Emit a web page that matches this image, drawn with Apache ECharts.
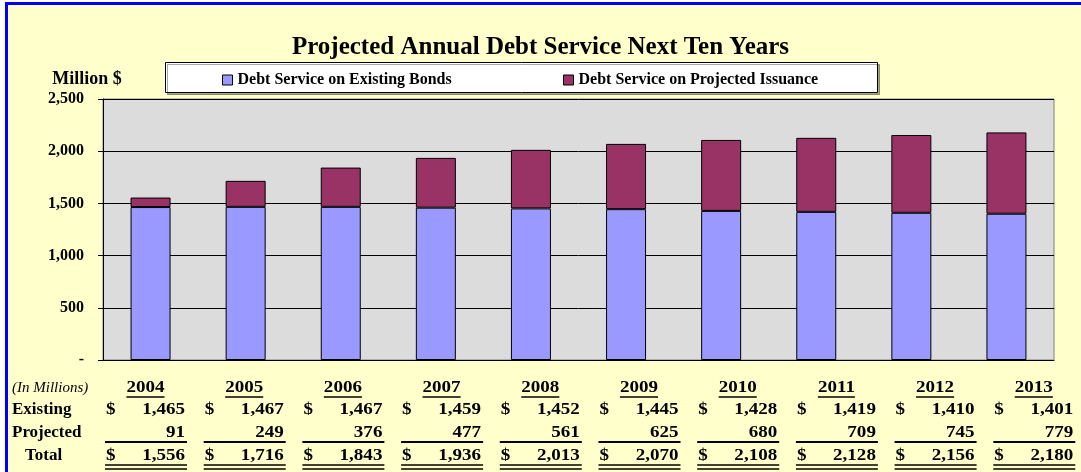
<!DOCTYPE html>
<html>
<head>
<meta charset="utf-8">
<script src="https://cdn.jsdelivr.net/npm/echarts@6/dist/echarts.min.js"></script>
<style>
  html, body { margin: 0; padding: 0; background: #ffffff; }
  #chart { width: 1081px; height: 472px; }
</style>
</head>
<body>
<div id="chart"></div>
<script>
// Annual debt service, millions of dollars
const years = ['2004', '2005', '2006', '2007', '2008', '2009', '2010', '2011', '2012', '2013'];
const existing = [1465, 1467, 1467, 1459, 1452, 1445, 1428, 1419, 1410, 1401];
const projected = [91, 249, 376, 477, 561, 625, 680, 709, 745, 779];
const totals = [1556, 1716, 1843, 1936, 2013, 2070, 2108, 2128, 2156, 2180];
const seriesNames = ['Debt Service on Existing Bonds', 'Debt Service on Projected Issuance'];
const rowLabels = ['(In Millions)', 'Existing', 'Projected', 'Total'];

const SERIF = '"Liberation Serif", "Times New Roman", serif';
const fmt = v => v.toLocaleString('en-US');

// measure text so the year underlines fit the text
const measureCtx = document.createElement('canvas').getContext('2d');
function textWidth(text, font) { measureCtx.font = font; return measureCtx.measureText(text).width; }

const WIDE = 1.12; // horizontal stretch of the table figures

function txt(x, y, text, font, align, sx) {
  return {
    type: 'text', x: x, y: y, z: 20, scaleX: sx || 1,
    style: { text: text, font: font, fill: '#000', textAlign: align || 'left', align: align || 'left',
             textVerticalAlign: 'middle', verticalAlign: 'middle' }
  };
}
function hline(x1, x2, y, w) {
  return { type: 'line', z: 20, shape: { x1: x1, y1: y, x2: x2, y2: y }, style: { stroke: '#000', lineWidth: w } };
}

const cellFont = 'bold 17px ' + SERIF;
const graphics = [];

// page frame
graphics.push({
  type: 'rect', z: -100, silent: true,
  shape: { x: 6.5, y: 3.5, width: 1200, height: 600 },
  style: { fill: '#FFFFCC', stroke: '#0000FF', lineWidth: 3 }
});
// legend box
graphics.push({
  type: 'rect', z: 1,
  shape: { x: 165.5, y: 62.5, width: 712, height: 30 },
  style: { fill: '#FFFFFF', stroke: '#000', lineWidth: 1, shadowColor: 'rgba(0,0,0,0.35)', shadowOffsetX: 2, shadowOffsetY: 2 }
});
// axis unit caption
graphics.push(txt(87, 79, 'Million $', 'bold 18px ' + SERIF, 'center'));

// data table beneath the plot
const rowY = [388, 410, 433, 456];
graphics.push(txt(12, rowY[0], rowLabels[0], 'italic 15px ' + SERIF, 'left'));
graphics.push(txt(12, rowY[1], rowLabels[1], cellFont, 'left'));
graphics.push(txt(12, rowY[2], rowLabels[2], cellFont, 'left'));
graphics.push(txt(25, rowY[3], rowLabels[3], cellFont, 'left'));

const colStep = 98.7;
years.forEach((yr, i) => {
  const dx = 106 + i * colStep;
  const rx = 185 + i * colStep;
  const cx = (dx + rx) / 2;
  const yw = textWidth(yr, cellFont) * WIDE;
  graphics.push(txt(cx - yw / 2, rowY[0], yr, cellFont, 'left', WIDE));
  graphics.push(hline(cx - yw / 2, cx + yw / 2, rowY[0] + 9, 1.5));

  graphics.push(txt(dx, rowY[1], '$', cellFont, 'left', WIDE));
  graphics.push(txt(rx, rowY[1], fmt(existing[i]), cellFont, 'right', WIDE));

  graphics.push(txt(rx, rowY[2], fmt(projected[i]), cellFont, 'right', WIDE));
  graphics.push(hline(dx - 1, rx + 2, 442, 2));

  graphics.push(txt(dx, rowY[3], '$', cellFont, 'left', WIDE));
  graphics.push(txt(rx, rowY[3], fmt(totals[i]), cellFont, 'right', WIDE));
  graphics.push(hline(dx - 1, rx + 2, 465, 1.5));
  graphics.push(hline(dx - 1, rx + 2, 469, 1.5));
});

const chart = echarts.init(document.getElementById('chart'), null, { renderer: 'canvas' });
const legendCommon = {
  top: 72, itemWidth: 10, itemHeight: 10, icon: 'rect',
  itemStyle: { borderColor: '#000', borderWidth: 1 },
  textStyle: { fontFamily: SERIF, fontWeight: 'bold', fontSize: 16, color: '#000' },
  padding: 0, selectedMode: false
};
chart.setOption({
  animation: false,
  title: {
    text: 'Projected Annual Debt Service Next Ten Years',
    left: 'center', top: 30,
    textStyle: { fontFamily: SERIF, fontWeight: 'bold', fontSize: 25, color: '#000' }
  },
  legend: [
    Object.assign({ left: 222, data: [seriesNames[0]] }, legendCommon),
    Object.assign({ left: 563, data: [seriesNames[1]] }, legendCommon)
  ],
  grid: {
    left: 103, right: 27, top: 99, bottom: 112,
    show: true, backgroundColor: '#DCDCDC', borderColor: '#808080', borderWidth: 1
  },
  xAxis: {
    type: 'category', data: years,
    axisLine: { lineStyle: { color: '#000', width: 1 } },
    axisTick: { show: false },
    axisLabel: { show: false }
  },
  yAxis: {
    type: 'value', min: 0, max: 2500, interval: 500,
    axisLine: { show: true, lineStyle: { color: '#000', width: 1 } },
    axisTick: { show: true, length: 5, lineStyle: { color: '#000' } },
    axisLabel: {
      margin: 19, color: '#000', fontFamily: SERIF, fontWeight: 'bold', fontSize: 16,
      formatter: v => (v === 0 ? '-' : fmt(v))
    },
    splitLine: { show: true, lineStyle: { color: '#000', width: 1 } }
  },
  series: [
    {
      name: seriesNames[0], type: 'bar', stack: 'debt', data: existing, barWidth: 40,
      itemStyle: { color: '#9999FF', borderColor: '#000', borderWidth: 1 }
    },
    {
      name: seriesNames[1], type: 'bar', stack: 'debt', data: projected, barWidth: 40,
      itemStyle: { color: '#993366', borderColor: '#000', borderWidth: 1 }
    }
  ],
  graphic: { elements: graphics }
});
</script>
</body>
</html>
